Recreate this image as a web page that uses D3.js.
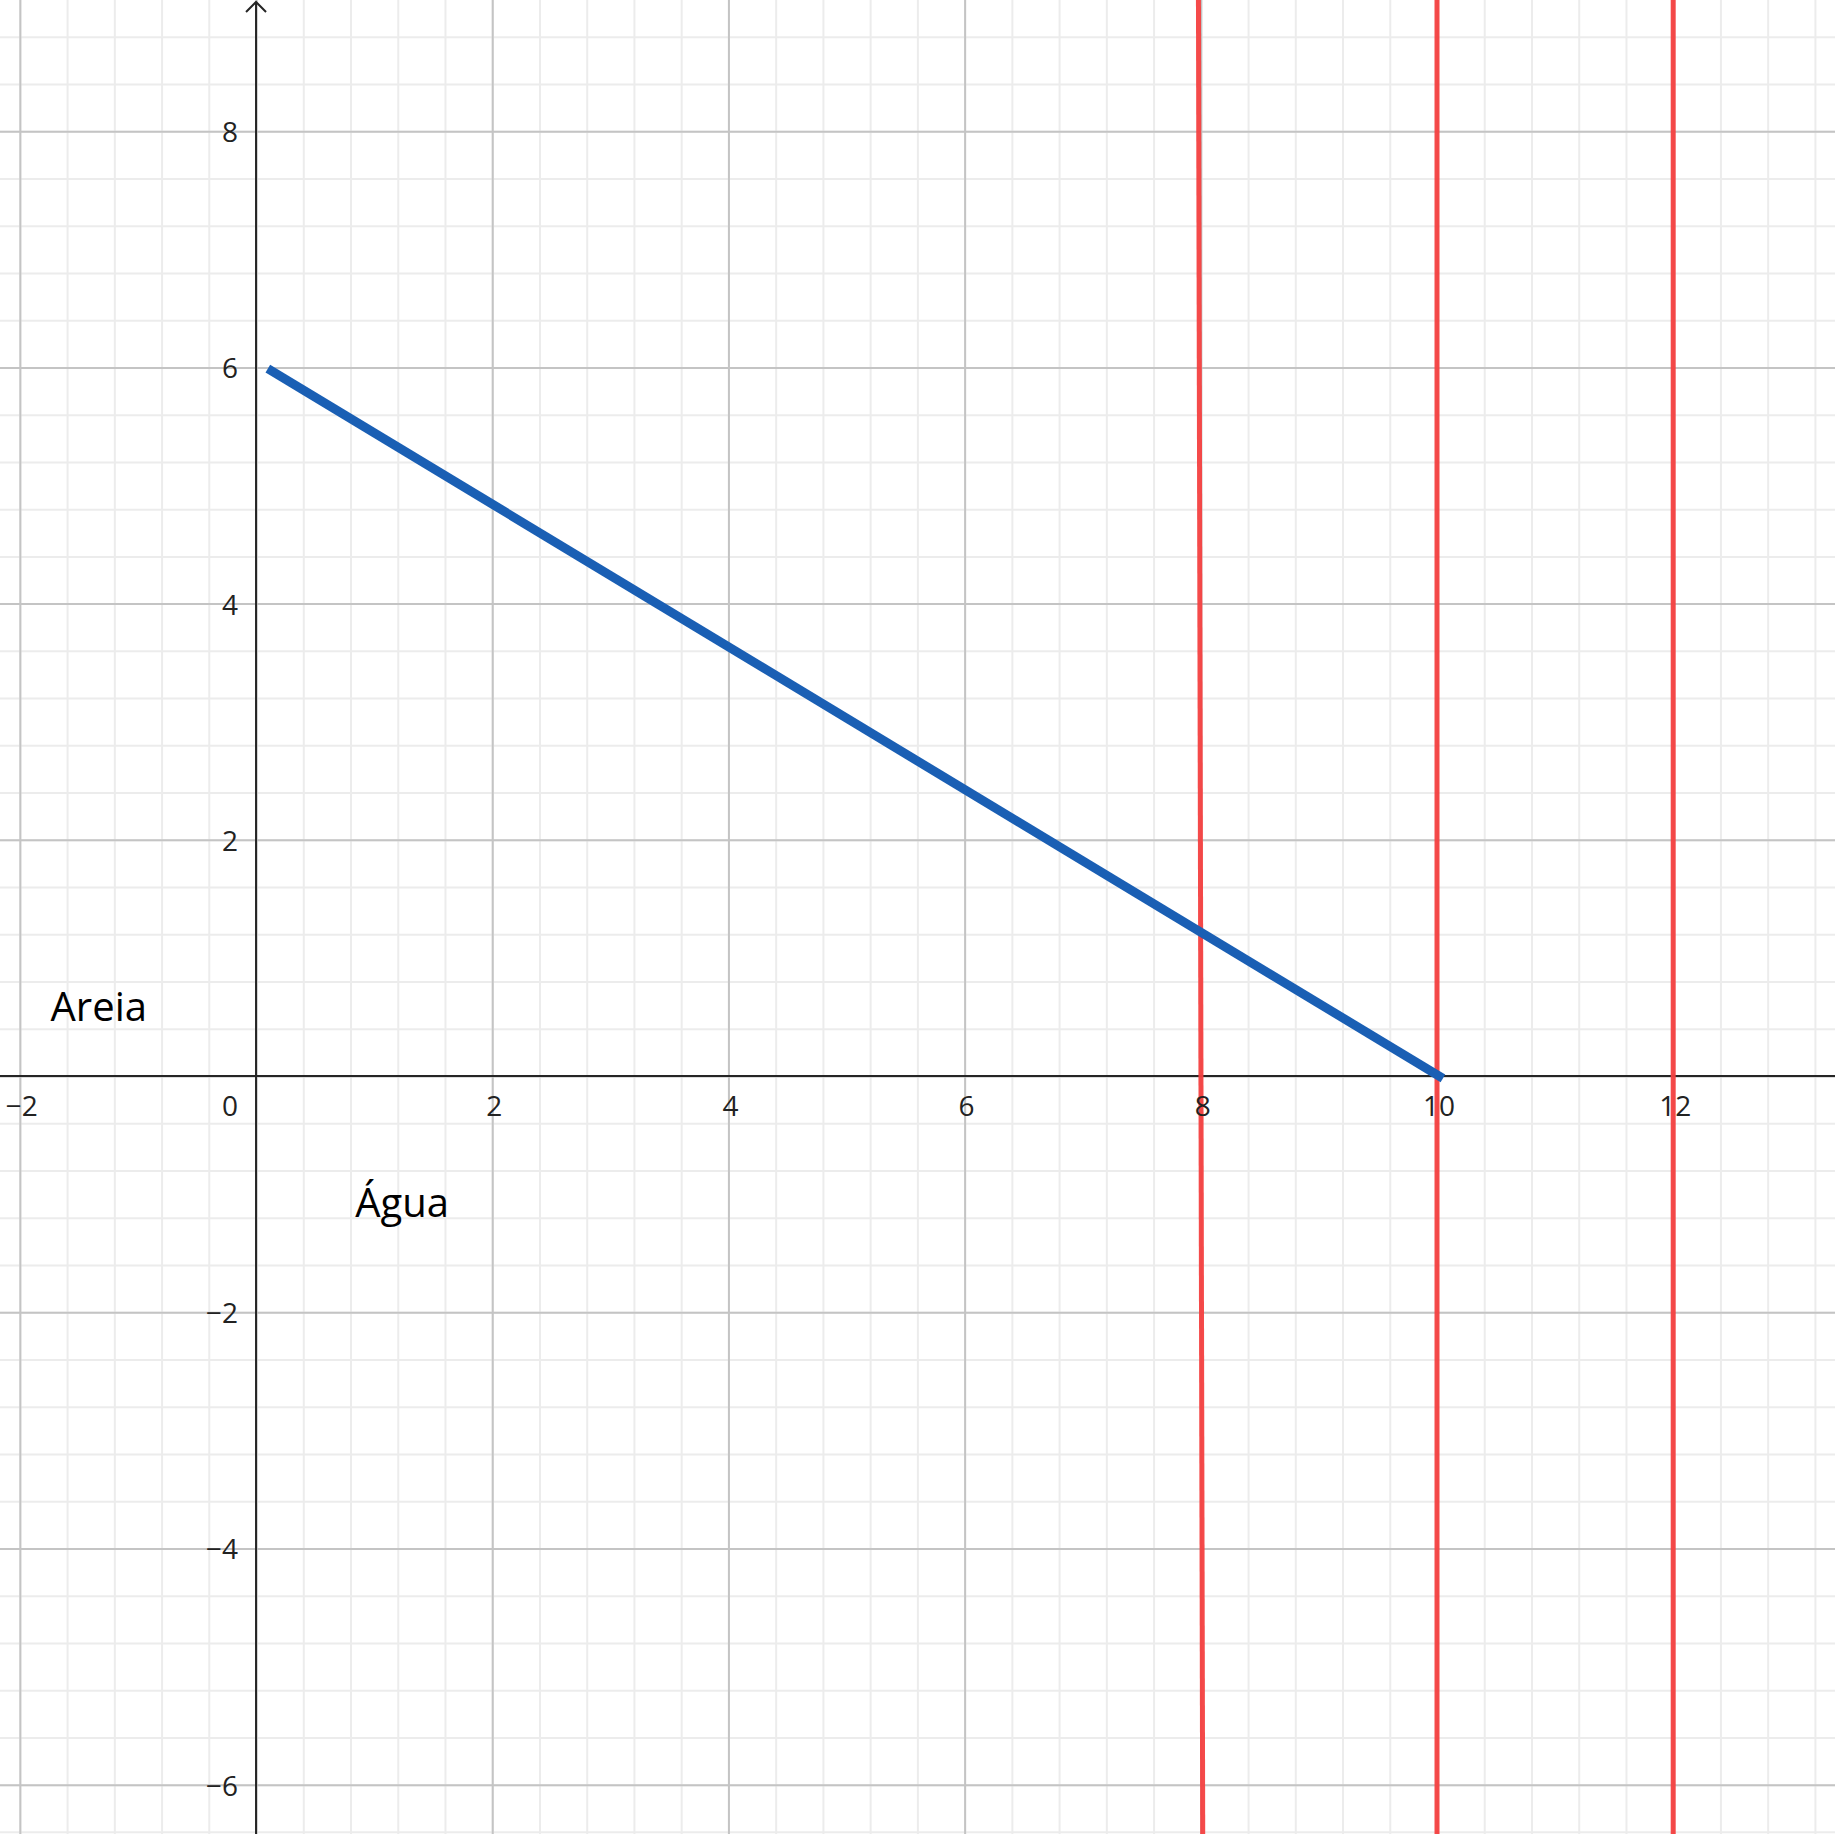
<!DOCTYPE html>
<html><head><meta charset="utf-8">
<script src="https://cdn.jsdelivr.net/npm/d3@7"></script>
<style>
html,body{margin:0;padding:0;background:#fff;}
svg{display:block;font-family:"Open Sans","Noto Sans",sans-serif;}
</style></head>
<body>
<svg id="c" width="1835" height="1834"></svg>
<script>
// ---- data ----
const xDomain = [-2.168, 13.37];
const yDomain = [-6.418, 9.111];
const xMajorTicks = [-2, 0, 2, 4, 6, 8, 10, 12];
const yMajorTicks = [-6, -4, -2, 0, 2, 4, 6, 8];
const xLabelTicks = [-2, 2, 4, 6, 8, 10, 12];
const yLabelTicks = [-6, -4, -2, 2, 4, 6, 8];
const minorStep = 0.4;
// red vertical lines: x at top, x at bottom
const redLines = [
  {xTop: 7.98, xBottom: 8.016},
  {xTop: 10.0, xBottom: 10.0},
  {xTop: 12.0, xBottom: 12.0}
];
// blue segment
const blueSegment = [
  {x: 0.1, y: 5.99},
  {x: 10.05, y: -0.02}
];
const textLabels = [
  {text: "Areia", x: -1.74, y: 0.47},
  {text: "Água", x: 0.84, y: -1.19}
];

// ---- drawing ----
const W = 1835, H = 1834;
const svg = d3.select("#c");
const x = d3.scaleLinear().domain(xDomain).range([0, W]);
const y = d3.scaleLinear().domain(yDomain).range([H, 0]);
const fmt = v => (v < 0 ? "\u2212" + Math.abs(v) : String(v));

const xMinor = d3.range(Math.ceil(xDomain[0] / minorStep), Math.floor(xDomain[1] / minorStep) + 1).map(i => +(i * minorStep).toFixed(2));
const yMinor = d3.range(Math.ceil(yDomain[0] / minorStep), Math.floor(yDomain[1] / minorStep) + 1).map(i => +(i * minorStep).toFixed(2));

// minor grid via axes
const gMinX = svg.append("g").attr("transform", `translate(0,${H})`)
  .call(d3.axisBottom(x).tickValues(xMinor).tickSize(-H).tickFormat(""));
const gMinY = svg.append("g")
  .call(d3.axisLeft(y).tickValues(yMinor).tickSize(-W).tickFormat(""));
[gMinX, gMinY].forEach(g => {
  g.select(".domain").remove();
  g.selectAll("line").attr("stroke", "#ececec").attr("stroke-width", 2);
});
// major grid
const gMajX = svg.append("g").attr("transform", `translate(0,${H})`)
  .call(d3.axisBottom(x).tickValues(xMajorTicks).tickSize(-H).tickFormat(""));
const gMajY = svg.append("g")
  .call(d3.axisLeft(y).tickValues(yMajorTicks).tickSize(-W).tickFormat(""));
[gMajX, gMajY].forEach(g => {
  g.select(".domain").remove();
  g.selectAll("line").attr("stroke", "#c4c4c4").attr("stroke-width", 2);
});

// axes lines
svg.append("line").attr("x1", 0).attr("x2", W).attr("y1", y(0)).attr("y2", y(0))
  .attr("stroke", "#252525").attr("stroke-width", 2);
svg.append("line").attr("x1", x(0)).attr("x2", x(0)).attr("y1", 2).attr("y2", H)
  .attr("stroke", "#252525").attr("stroke-width", 2);
svg.append("path")
  .attr("d", `M${x(0) - 10},${12} L${x(0)},${2} L${x(0) + 10},${12}`)
  .attr("fill", "none").attr("stroke", "#252525").attr("stroke-width", 2);

// red lines
svg.append("g").selectAll("line").data(redLines).join("line")
  .attr("x1", d => x(d.xTop)).attr("y1", y(yDomain[1]))
  .attr("x2", d => x(d.xBottom)).attr("y2", y(yDomain[0]))
  .attr("stroke", "#f44040").attr("stroke-width", 5).attr("stroke-opacity", 0.95);

// axis labels
const lab = svg.append("g").attr("font-size", 28).attr("fill", "#222");
lab.selectAll("text.xl").data(xLabelTicks).join("text").attr("class", "xl")
  .attr("x", d => x(d) + 2).attr("y", y(0) + 29)
  .attr("text-anchor", "middle").attr("dominant-baseline", "central")
  .text(fmt);
lab.selectAll("text.yl").data(yLabelTicks).join("text").attr("class", "yl")
  .attr("x", x(0) - 18).attr("y", d => y(d))
  .attr("text-anchor", "end").attr("dominant-baseline", "central")
  .text(fmt);
lab.append("text").attr("x", x(0) - 18).attr("y", y(0) + 29)
  .attr("text-anchor", "end").attr("dominant-baseline", "central").text("0");

// blue segment
svg.append("path").datum(blueSegment)
  .attr("d", d3.line().x(d => x(d.x)).y(d => y(d.y)))
  .attr("fill", "none").attr("stroke", "#1a5fb4").attr("stroke-width", 9);

// text labels
svg.append("g").selectAll("text").data(textLabels).join("text")
  .attr("x", d => x(d.x)).attr("y", d => y(d.y))
  .attr("font-size", 40).attr("fill", "#000")
  .text(d => d.text);
</script>
</body></html>
